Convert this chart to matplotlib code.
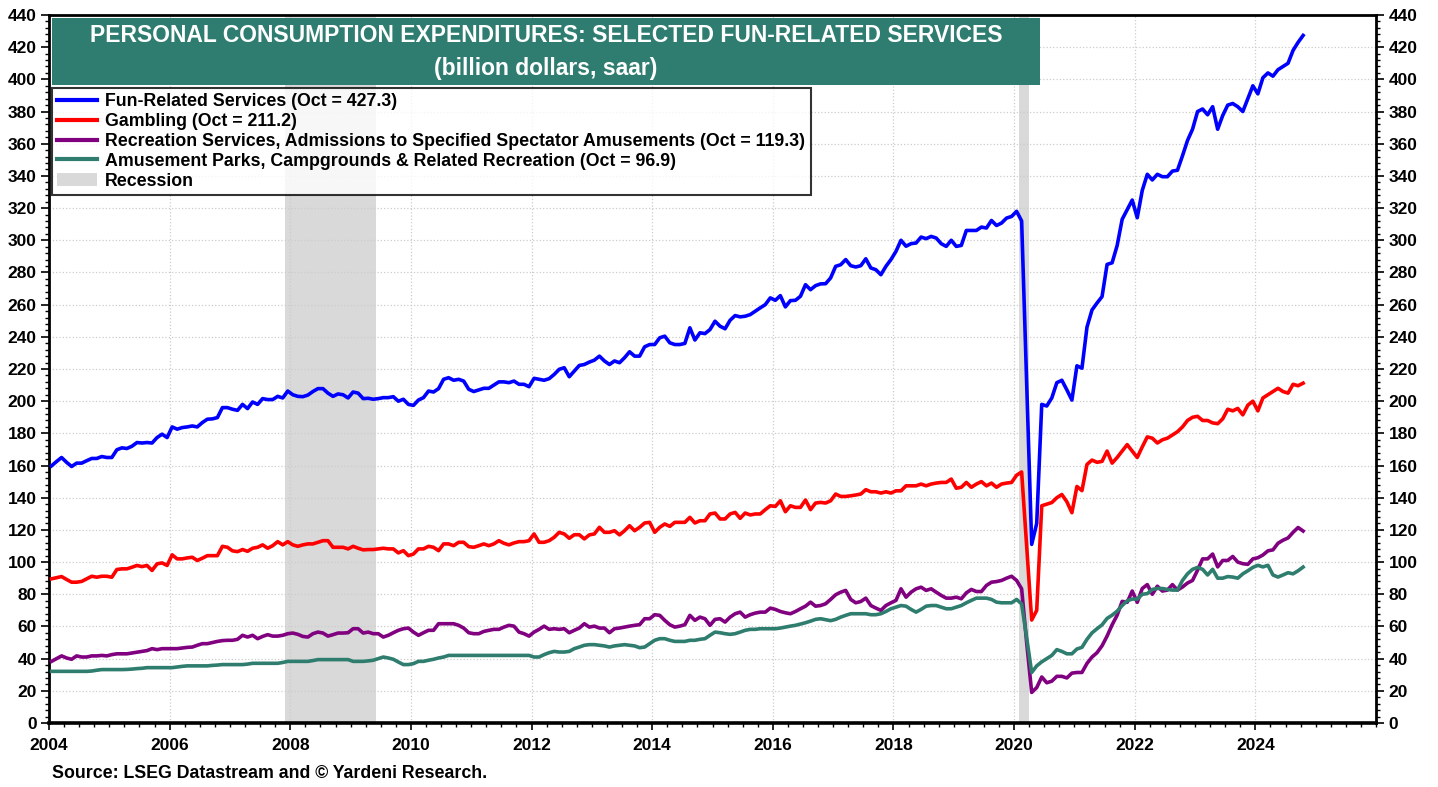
import numpy as np
import matplotlib
matplotlib.use("Agg")
import matplotlib.pyplot as plt
from matplotlib.patches import Rectangle, Patch
from matplotlib.lines import Line2D
from matplotlib.ticker import MultipleLocator

# Monthly data, Jan 2004 .. Oct 2024 (billion dollars, saar), one row per year
fun_related = [
    159.8, 162.5, 165.0, 162.0, 159.4, 161.5, 161.5, 163.0, 164.4, 164.4, 165.6, 165.0,
    165.0, 169.8, 171.0, 170.6, 172.0, 174.3, 174.0, 174.3, 174.0, 177.4, 179.5, 177.4,
    184.0, 182.6, 183.6, 184.0, 184.6, 184.0, 186.7, 188.8, 189.0, 189.8, 196.0, 196.0,
    195.0, 194.3, 198.0, 195.4, 199.5, 198.0, 201.6, 201.0, 201.0, 203.0, 202.0, 206.3,
    204.0, 203.0, 202.8, 203.8, 206.0, 207.8, 207.8, 205.0, 203.0, 204.5, 204.0, 202.0,
    205.7, 205.0, 201.6, 201.8, 201.2, 201.6, 202.2, 202.2, 202.8, 200.0, 201.2, 198.0,
    197.4, 200.7, 202.2, 206.3, 205.7, 207.8, 213.6, 214.6, 213.0, 213.6, 212.5, 207.4,
    206.0, 207.0, 208.0, 208.0, 210.0, 212.0, 212.0, 211.5, 212.5, 210.5, 210.5, 209.0,
    214.2, 213.6, 213.0, 214.0, 216.6, 219.8, 220.8, 215.2, 218.7, 222.2, 222.8, 224.3,
    225.5, 228.0, 225.0, 222.8, 225.0, 223.9, 227.0, 230.7, 228.0, 228.0, 233.8, 235.2,
    235.2, 239.4, 240.4, 236.3, 235.2, 235.2, 235.9, 245.6, 238.0, 242.5, 242.0, 244.5,
    249.7, 246.6, 245.0, 250.3, 253.2, 252.4, 252.8, 253.8, 255.9, 258.0, 260.0, 264.2,
    262.7, 265.6, 258.6, 262.5, 262.7, 265.2, 272.4, 269.3, 271.8, 272.9, 273.0, 276.6,
    283.8, 284.8, 288.0, 284.2, 283.4, 284.2, 288.5, 282.8, 281.7, 278.6, 283.8, 288.0,
    293.1, 300.0, 296.3, 297.9, 298.3, 302.0, 301.0, 302.4, 301.4, 297.9, 296.2, 300.0,
    296.2, 296.8, 306.1, 306.1, 306.1, 308.2, 307.6, 312.3, 309.2, 310.7, 313.8, 314.8,
    318.0, 312.0, 212.0, 111.0, 124.0, 198.0, 197.0, 202.0, 211.5, 213.0, 207.0, 200.7,
    222.0, 220.5, 246.0, 256.7, 261.0, 265.0, 285.0, 286.0, 296.7, 313.0, 319.0, 325.0,
    314.0, 331.0, 341.0, 337.5, 341.0, 339.5, 339.5, 343.0, 343.5, 352.5, 362.0, 369.0,
    380.0, 381.6, 378.0, 383.0, 369.0, 377.5, 384.0, 385.0, 383.0, 380.0, 388.0, 396.0,
    391.0, 401.0, 404.0, 402.0, 406.0, 408.0, 410.0, 418.0, 423.0, 427.3,
]

gambling = [
    89.6, 90.3, 91.0, 89.2, 87.5, 87.5, 88.0, 89.6, 91.2, 90.6, 91.2, 91.2,
    90.6, 95.4, 95.8, 95.8, 96.8, 97.9, 97.2, 97.9, 94.8, 98.9, 99.5, 97.9,
    104.5, 102.0, 102.0, 102.6, 103.0, 101.0, 102.4, 104.0, 104.0, 104.0, 109.8, 109.2,
    107.0, 106.5, 107.8, 106.7, 108.6, 109.2, 110.7, 108.6, 110.2, 112.7, 110.7, 112.7,
    110.7, 109.8, 110.7, 111.3, 111.3, 112.3, 113.3, 113.3, 109.2, 109.2, 109.2, 108.2,
    109.8, 108.6, 107.6, 107.8, 107.8, 108.2, 108.6, 108.2, 108.2, 105.7, 107.1, 104.0,
    105.0, 108.2, 108.2, 109.8, 109.2, 107.1, 111.3, 111.3, 110.2, 112.3, 112.3, 109.6,
    109.2, 110.2, 111.3, 110.2, 111.3, 113.3, 111.7, 110.7, 111.9, 112.7, 112.7, 113.3,
    117.5, 112.3, 112.3, 113.3, 115.4, 118.5, 117.5, 114.8, 117.0, 117.0, 114.4, 116.9,
    117.5, 121.6, 118.5, 118.5, 119.5, 116.9, 119.5, 122.6, 119.5, 121.6, 124.3, 124.7,
    118.5, 121.6, 123.7, 122.2, 124.7, 124.7, 124.7, 127.8, 124.3, 125.7, 125.7, 129.9,
    130.5, 126.8, 126.8, 129.9, 130.9, 127.2, 130.5, 129.3, 129.9, 129.9, 132.6, 135.0,
    134.6, 138.1, 131.3, 135.0, 134.0, 134.0, 138.6, 132.6, 136.7, 137.1, 136.7, 138.1,
    142.3, 140.8, 140.8, 141.2, 141.7, 142.3, 145.0, 143.7, 143.7, 142.9, 143.7, 142.9,
    144.3, 144.3, 147.4, 147.4, 147.4, 148.5, 147.4, 148.5, 149.1, 149.5, 149.5, 151.6,
    145.9, 146.5, 149.5, 146.5, 148.5, 150.0, 147.4, 149.1, 146.5, 148.5, 149.1, 149.5,
    154.0, 156.0, 110.0, 64.0, 70.0, 135.0, 136.0, 137.0, 140.0, 142.0, 137.5, 130.7,
    147.0, 144.4, 160.7, 163.4, 162.0, 162.6, 169.0, 161.5, 165.0, 169.0, 173.0, 169.0,
    165.0, 171.6, 177.8, 177.0, 174.0, 176.0, 177.0, 179.0, 181.0, 184.0, 188.0, 190.0,
    190.6, 188.0, 188.0, 186.5, 186.0, 189.0, 195.0, 194.0, 195.5, 191.5, 197.5, 200.0,
    194.0, 202.0, 204.0, 206.0, 208.0, 206.0, 205.0, 210.5, 209.6, 211.2,
]

spectator = [
    38.3, 40.0, 41.7, 40.4, 39.6, 41.7, 41.0, 41.0, 41.7, 41.7, 42.0, 41.7,
    42.5, 43.0, 43.0, 43.0, 43.5, 44.0, 44.5, 45.0, 46.2, 45.6, 46.2, 46.2,
    46.2, 46.2, 46.6, 47.0, 47.2, 48.3, 49.3, 49.3, 50.0, 50.7, 51.2, 51.4,
    51.4, 52.0, 54.5, 53.4, 54.5, 52.4, 53.8, 54.9, 54.0, 54.0, 54.5, 55.5,
    55.9, 55.1, 53.8, 53.4, 55.5, 56.5, 55.9, 54.0, 54.9, 55.9, 55.9, 56.1,
    58.6, 58.6, 55.9, 56.5, 55.5, 55.5, 53.4, 54.5, 56.1, 57.6, 58.6, 59.0,
    56.5, 54.5, 56.1, 57.6, 57.6, 61.7, 61.7, 61.7, 61.7, 60.7, 59.0, 56.1,
    55.5, 55.5, 56.9, 57.6, 58.2, 58.2, 59.6, 60.7, 60.2, 56.5, 55.5, 54.0,
    56.5, 58.2, 60.2, 58.2, 58.6, 58.2, 58.6, 56.1, 57.6, 59.0, 61.7, 59.6,
    60.2, 59.0, 59.0, 56.1, 58.6, 59.0, 59.6, 60.2, 60.7, 61.1, 64.8, 64.8,
    67.3, 66.9, 63.8, 61.1, 59.6, 60.2, 61.1, 66.9, 63.8, 65.8, 64.8, 60.7,
    64.4, 64.8, 62.7, 65.8, 67.9, 68.9, 65.8, 67.3, 68.3, 68.9, 68.9, 71.4,
    70.6, 69.3, 68.5, 67.9, 69.3, 71.0, 72.6, 75.1, 72.6, 73.0, 74.1, 76.8,
    79.7, 81.3, 82.4, 76.8, 74.7, 75.5, 77.6, 73.0, 71.4, 70.0, 73.0, 74.7,
    76.2, 83.4, 78.2, 81.3, 83.4, 84.4, 82.4, 83.4, 81.3, 79.3, 77.6, 77.6,
    78.2, 77.2, 80.9, 83.0, 81.7, 81.7, 85.5, 87.5, 87.9, 88.6, 90.0, 91.2,
    88.6, 83.4, 50.0, 19.0, 22.0, 28.6, 25.0, 26.0, 29.0, 29.0, 28.0, 31.0,
    31.4, 31.4, 37.0, 41.0, 43.7, 48.0, 54.0, 61.0, 67.0, 75.6, 75.0, 82.0,
    75.0, 83.6, 86.0, 80.0, 85.0, 82.0, 82.6, 86.0, 82.6, 84.5, 87.0, 88.6,
    95.0, 102.0, 102.0, 105.0, 97.0, 101.0, 101.0, 103.5, 100.0, 99.0, 98.6, 102.0,
    102.7, 104.4, 107.0, 107.6, 111.7, 113.6, 115.0, 118.5, 121.5, 119.3,
]

amusement_parks = [
    32.1, 32.1, 32.1, 32.1, 32.1, 32.1, 32.1, 32.1, 32.3, 32.8, 33.2, 33.2,
    33.2, 33.2, 33.2, 33.3, 33.5, 33.8, 34.0, 34.4, 34.4, 34.4, 34.4, 34.4,
    34.4, 34.8, 35.2, 35.5, 35.5, 35.5, 35.5, 35.5, 35.8, 36.0, 36.3, 36.3,
    36.3, 36.3, 36.3, 36.6, 37.1, 37.1, 37.1, 37.1, 37.1, 37.1, 37.6, 38.3,
    38.3, 38.3, 38.3, 38.3, 38.8, 39.4, 39.4, 39.4, 39.4, 39.4, 39.4, 39.4,
    38.3, 38.3, 38.3, 38.6, 39.0, 40.0, 41.0, 40.4, 39.6, 37.9, 36.3, 36.3,
    36.9, 38.3, 38.3, 39.0, 39.6, 40.4, 41.0, 42.0, 42.0, 42.0, 42.0, 42.0,
    42.0, 42.0, 42.0, 42.0, 42.0, 42.0, 42.0, 42.0, 42.0, 42.0, 42.0, 42.0,
    41.0, 41.0, 42.5, 43.7, 44.5, 44.1, 44.1, 44.5, 46.2, 47.2, 48.3, 48.7,
    48.7, 48.3, 47.9, 47.2, 47.9, 48.3, 48.7, 48.3, 47.9, 46.8, 47.2, 49.3,
    51.4, 52.4, 52.4, 51.4, 50.7, 50.7, 50.7, 51.4, 51.4, 52.0, 52.4, 54.5,
    56.5, 56.1, 55.5, 55.1, 55.5, 56.5, 57.6, 58.2, 58.2, 58.6, 58.6, 58.6,
    58.6, 59.0, 59.6, 60.2, 60.7, 61.5, 62.3, 63.3, 64.4, 64.8, 64.2, 63.6,
    64.4, 65.8, 66.9, 67.9, 67.9, 67.9, 67.9, 67.3, 67.3, 67.9, 69.3, 71.0,
    72.0, 73.0, 72.6, 70.6, 68.9, 70.6, 72.6, 73.0, 73.0, 72.0, 71.0, 71.0,
    72.0, 73.0, 74.7, 76.2, 77.6, 77.6, 77.6, 76.8, 75.1, 74.7, 74.7, 74.7,
    76.8, 74.0, 53.0, 31.4, 35.5, 38.0, 40.0, 42.0, 45.6, 44.5, 43.0, 43.0,
    46.0, 47.0, 52.0, 56.0, 58.6, 61.0, 65.0, 67.0, 69.5, 73.0, 76.0, 77.0,
    77.0, 80.0, 80.4, 83.0, 83.6, 83.6, 83.0, 82.6, 82.6, 88.6, 92.7, 95.5,
    96.7, 95.5, 92.0, 95.5, 90.0, 90.0, 91.0, 90.7, 90.0, 92.7, 94.6, 96.7,
    98.0, 97.0, 98.0, 92.0, 90.7, 92.0, 93.4, 92.7, 94.6, 96.9,
]

series_labels = [
    "Fun-Related Services (Oct = 427.3)",
    "Gambling (Oct = 211.2)",
    "Recreation Services, Admissions to Specified Spectator Amusements (Oct = 119.3)",
    "Amusement Parks, Campgrounds & Related Recreation (Oct = 96.9)",
]
series_colors = ["#0000FF", "#FF0000", "#800080", "#2E7D6E"]

recessions = [(2007 + 11 / 12, 2009 + 5 / 12), (2020 + 1 / 12, 2020 + 3 / 12)]

title = "PERSONAL CONSUMPTION EXPENDITURES: SELECTED FUN-RELATED SERVICES"
subtitle = "(billion dollars, saar)"
source = "Source: LSEG Datastream and \u00a9 Yardeni Research."

plt.rcParams["font.family"] = ["Liberation Sans", "DejaVu Sans"]
plt.rcParams["font.weight"] = "bold"

W, H = 1438, 787
fig = plt.figure(figsize=(W / 100, H / 100), dpi=100)
ax = fig.add_axes([49 / W, (H - 723) / H, (1376 - 49) / W, (723 - 15) / H])

months = np.arange(len(fun_related))
dates = 2004 + (months + 0.5) / 12

for lo, hi in recessions:
    ax.axvspan(lo, hi, color="#D9D9D9", lw=0, zorder=0.2)

all_series = [fun_related, gambling, spectator, amusement_parks]
for vals, col in zip(all_series, series_colors):
    ax.plot(dates, vals, color=col, lw=2.6, solid_joinstyle="round", zorder=3)

ax.set_xlim(2004, 2026)
ax.set_ylim(0, 440)
ax.xaxis.set_major_locator(MultipleLocator(2))
ax.xaxis.set_minor_locator(MultipleLocator(0.25))
ax.yaxis.set_major_locator(MultipleLocator(20))
ax.yaxis.set_minor_locator(MultipleLocator(4))
ax.set_xticks(range(2004, 2025, 2))

ax.set_axisbelow(True)
ax.grid(True, which="major", color="#CCCCCC", ls=":", lw=0.9)

ax.tick_params(axis="y", which="both", left=True, right=True, labelleft=True,
               labelright=True, direction="out", labelsize=12.5, pad=3)
ax.tick_params(axis="y", which="major", length=6, width=1.2)
ax.tick_params(axis="y", which="minor", length=3, width=1)
ax.tick_params(axis="x", which="major", length=5, width=1.2, labelsize=12.5, pad=6)
ax.tick_params(axis="x", which="minor", length=3, width=1)
for lab in ax.get_xticklabels() + ax.get_yticklabels():
    lab.set_fontweight("bold")

for side in ["left", "right", "top"]:
    ax.spines[side].set_linewidth(2)
ax.spines["bottom"].set_linewidth(2.6)

# title banner
fig.add_artist(Rectangle((52 / W, (H - 85) / H), (1040 - 52) / W, (85 - 18) / H,
                         transform=fig.transFigure, facecolor="#2F7D70",
                         edgecolor="none", zorder=5))
fig.text(546 / W, (H - 36) / H, title, color="white", fontsize=16.5,
         fontweight="bold", ha="center", va="center", zorder=6)
fig.text(546 / W, (H - 68) / H, subtitle, color="white", fontsize=16.5,
         fontweight="bold", ha="center", va="center", zorder=6)

handles = [Line2D([], [], color=c, lw=3) for c in series_colors]
handles.append(Patch(facecolor="#D9D9D9", edgecolor="none"))
leg = ax.legend(handles, series_labels + ["Recession"], loc="upper left",
                bbox_to_anchor=(52 / W, (H - 88) / H), bbox_transform=fig.transFigure,
                borderaxespad=0, fontsize=12.8, frameon=True, fancybox=False,
                handlelength=2.25, handleheight=0.8, handletextpad=0.45,
                labelspacing=0.16, borderpad=0.3)
leg.get_frame().set_edgecolor("black")
leg.get_frame().set_linewidth(1.5)
leg.set_zorder(6)
for t in leg.get_texts():
    t.set_fontweight("bold")

fig.text(52 / W, (H - 774) / H, source, fontsize=12.8, fontweight="bold",
         ha="left", va="center")

fig.savefig("out.png", dpi=100)
